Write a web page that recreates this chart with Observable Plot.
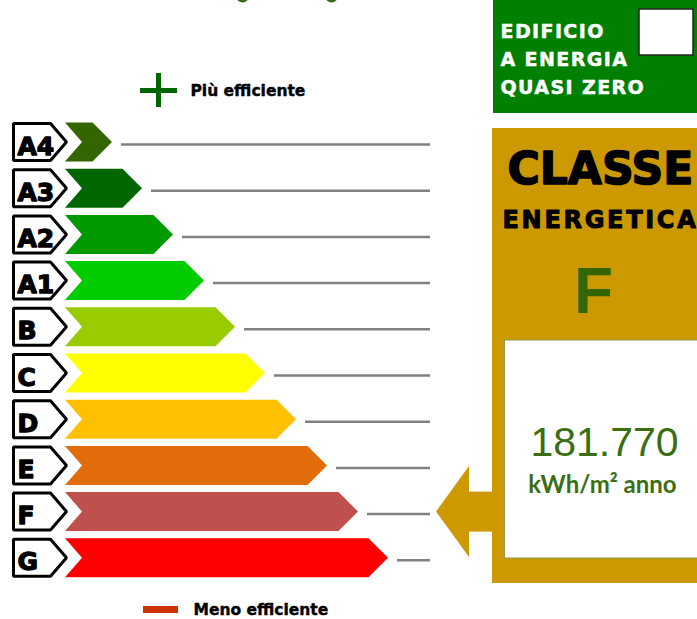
<!DOCTYPE html>
<html><head><meta charset="utf-8">
<script src="https://cdn.jsdelivr.net/npm/d3@7"></script>
<script src="https://cdn.jsdelivr.net/npm/@observablehq/plot@0.6"></script>
<style>
html,body{margin:0;padding:0;background:#fff;overflow:hidden;}
#chart svg{display:block;overflow:hidden;}
</style></head><body><div id="chart"></div>
<script>
// ---- data ----
const classes = ["A4","A3","A2","A1","B","C","D","E","F","G"];
const classColors = ["#336600","#006600","#009900","#00cc00","#99cc00","#ffff00","#ffc000","#e36c0a","#c0504d","#ff0000"];
const barLengths = [47, 77, 108, 139, 170, 200, 231, 262, 293, 323]; // arrow length of each class
const currentClass = "F";
const currentValue = "181.770";
const unitLabel = "kWh/m² anno";
const legendLabels = ["Più efficiente", "Meno efficiente"];
const nzebLines = ["EDIFICIO", "A ENERGIA", "QUASI ZERO"];
const panelTitle = ["CLASSE", "ENERGETICA"];

// ---- layout helpers (row units: one unit = one class row) ----
const W = 697, H = 619;
const rowTop = 142, rowStep = 46.2;
const py = p => (p - rowTop) / rowStep; // pixel-row to row units for decorations
const barStart = 65, notch = 17, labelLeft = 13.5;
const hBar = 19.5 / rowStep, hLab = 18.5 / rowStep;
const gold = "#cc9900", green = "#336600";

const rows = classes.map((c, i) => ({cls: c, i, tip: barStart + barLengths[i], color: classColors[i]}));
const cur = classes.indexOf(currentClass);

const marks = [];
// label boxes
rows.forEach(r => {
  marks.push(Plot.areaX([
    {y: r.i - hLab, x1: labelLeft, x2: 50.5},
    {y: r.i, x1: labelLeft, x2: 66.5},
    {y: r.i + hLab, x1: labelLeft, x2: 50.5}
  ], {y: "y", x1: "x1", x2: "x2", fill: "white", stroke: "black", strokeWidth: 3, strokeLinejoin: "miter"}));
});
marks.push(Plot.text(rows, {x: 17, y: "i", text: "cls", textAnchor: "start", lineAnchor: "bottom", dy: 12,
  fontSize: 25, fontWeight: "bold", fontFamily: "DejaVu Sans", fill: "black", stroke: "black", strokeWidth: 1.3}));
// class arrows
rows.forEach(r => {
  const d = hBar * rowStep;
  marks.push(Plot.areaX([
    {y: r.i - hBar, x1: barStart, x2: r.tip - d},
    {y: r.i, x1: barStart + notch, x2: r.tip},
    {y: r.i + hBar, x1: barStart, x2: r.tip - d}
  ], {y: "y", x1: "x1", x2: "x2", fill: r.color}));
});
// grey leader lines
marks.push(Plot.ruleY(rows, {y: "i", x1: d => d.tip + 9, x2: 430, stroke: "#808080", strokeWidth: 2.5, dy: 2}));

// legend: plus / minus
marks.push(Plot.ruleY([py(90)], {x1: 140, x2: 177, stroke: "#006600", strokeWidth: 5}));
marks.push(Plot.ruleX([158], {y1: py(73), y2: py(107), stroke: "#006600", strokeWidth: 5}));
marks.push(Plot.text([legendLabels[0]], {x: 190, y: py(95), text: d => d, textAnchor: "start", lineAnchor: "bottom",
  fontSize: 15.5, fontWeight: "bold", fontFamily: "DejaVu Sans", fill: "black", stroke: "black", strokeWidth: 0.4}));
marks.push(Plot.rect([0], {x1: 143, x2: 178, y1: py(606), y2: py(613), fill: "#cc3300"}));
marks.push(Plot.text([legendLabels[1]], {x: 193, y: py(614.5), text: d => d, textAnchor: "start", lineAnchor: "bottom",
  fontSize: 15.5, fontWeight: "bold", fontFamily: "DejaVu Sans", fill: "black", stroke: "black", strokeWidth: 0.4}));

// decorative partial circles at top
marks.push(Plot.dot([242, 331], {x: d => d, y: py(-4.5), r: 6.5, fill: "#3a6b10"}));

// NZEB green box
marks.push(Plot.rect([0], {x1: 493, x2: W + 5, y1: py(-2), y2: py(113), fill: "#008000"}));
marks.push(Plot.rect([0], {x1: 639, x2: 693, y1: py(9), y2: py(55), fill: "white", stroke: "#222", strokeWidth: 1.5}));
marks.push(Plot.text(nzebLines, {x: 500, y: (d, k) => py(37 + 28 * k), text: d => d, textAnchor: "start", lineAnchor: "bottom",
  fontSize: 19, fontWeight: "bold", fontFamily: "DejaVu Sans", fill: "white", stroke: "white", strokeWidth: 0.5}));

// gold class panel
marks.push(Plot.rect([0], {x1: 492, x2: W + 5, y1: py(128), y2: py(583), fill: gold}));
marks.push(Plot.rect([0], {x1: 504.5, x2: W + 5, y1: py(340), y2: py(558), fill: "white", stroke: "#8a9a5b", strokeWidth: 1}));
// pointer arrow at current class
marks.push(Plot.rect([0], {x1: 468, x2: 493, y1: cur - 20 / rowStep, y2: cur + 20 / rowStep, fill: gold}));
marks.push(Plot.areaX([
  {y: cur - 45.5 / rowStep, x1: 469, x2: 469},
  {y: cur, x1: 436, x2: 469},
  {y: cur + 45.5 / rowStep, x1: 469, x2: 469}
], {y: "y", x1: "x1", x2: "x2", fill: gold}));

marks.push(Plot.text([panelTitle[0]], {x: 507, y: py(183), text: d => d, textAnchor: "start", lineAnchor: "bottom",
  fontSize: 44, fontWeight: "bold", fontFamily: "DejaVu Sans", fill: "black", stroke: "black", strokeWidth: 1.6}));
marks.push(Plot.text([panelTitle[1]], {x: 502, y: py(227), text: d => d, textAnchor: "start", lineAnchor: "bottom",
  fontSize: 24, fontWeight: "bold", fontFamily: "DejaVu Sans", fill: "black", stroke: "black", strokeWidth: 1}));
marks.push(Plot.text([currentClass], {x: 593, y: py(312), text: d => d, textAnchor: "middle", lineAnchor: "bottom",
  fontSize: 64, fontWeight: "bold", fontFamily: "Liberation Sans", fill: green}));
marks.push(Plot.text([currentValue], {x: 604, y: py(455), text: d => d, textAnchor: "middle", lineAnchor: "bottom",
  fontSize: 41, fontFamily: "Liberation Sans", fill: "#3a6e12"}));
marks.push(Plot.text([unitLabel], {x: 602, y: py(492), text: d => d, textAnchor: "middle", lineAnchor: "bottom",
  fontSize: 24, fontWeight: "bold", fontFamily: "Lato", fill: "#3a6e12"}));

const chart = Plot.plot({
  width: W, height: H, margin: 0,
  x: {type: "linear", domain: [0, W], range: [0, W], axis: null},
  y: {type: "linear", domain: [py(0), py(H)], range: [0, H], axis: null},
  style: {background: "white"},
  marks
});
// widen the letter spacing of the panel texts to match the wide original typeface
d3.select(chart).selectAll("text").each(function () {
  const t = this.textContent;
  if (t === panelTitle[1]) this.setAttribute("letter-spacing", "2.7");
  if (nzebLines.includes(t)) this.setAttribute("letter-spacing", "1.4");
});
document.getElementById("chart").appendChild(chart);
</script></body></html>
